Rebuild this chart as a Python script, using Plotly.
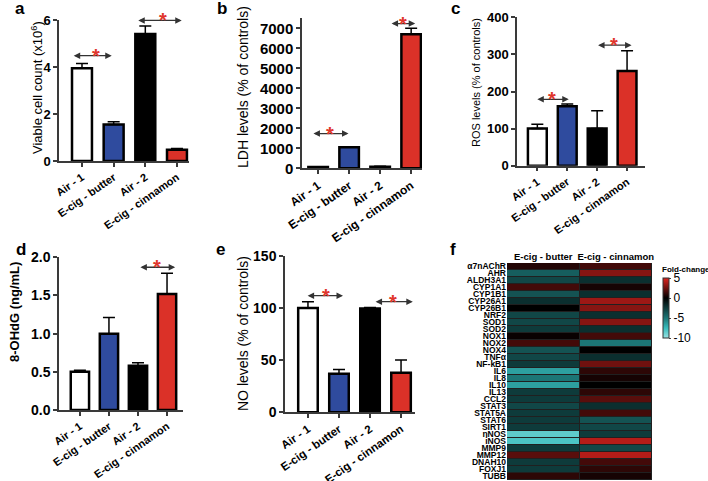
import plotly.graph_objects as go

W, H = 708, 481
FONT = "Liberation Sans, Arial, sans-serif"

groups = ["Air - 1", "E-cig - butter", "Air - 2", "E-cig - cinnamon"]
bar_colors = ["#ffffff", "#2f4b9e", "#000000", "#db3128"]

# Panel values (mean, upper error)
viable_mean = [3.95, 1.55, 5.4, 0.48]
viable_err = [0.2, 0.12, 0.35, 0.05]
ldh_mean = [60, 1050, 80, 6700]
ldh_err = [10, 30, 25, 300]
ros_mean = [100, 160, 100, 255]
ros_err = [12, 6, 48, 55]
ohdg_mean = [0.5, 1.0, 0.58, 1.52]
ohdg_err = [0.02, 0.21, 0.04, 0.27]
no_mean = [100, 37, 99.5, 38]
no_err = [6, 4, 1, 12]

genes = ["α7nAChR", "AHR", "ALDH3A1", "CYP1A1", "CYP1B1", "CYP26A1", "CYP26B1",
         "NRF2", "SOD1", "SOD2", "NOX1", "NOX2", "NOX4", "TNFα", "NF-kB1", "IL6",
         "IL8", "IL10", "IL13", "CCL2", "STAT3", "STAT5A", "STAT6", "SIRT1",
         "nNOS", "iNOS", "MMP9", "MMP12", "DNAH10", "FOXJ1", "TUBB"]
heat_cols = ["E-cig - butter", "E-cig - cinnamon"]
fc_butter = [0.8, -4.0, -3.0, 1.5, -3.5, -2.0, 0.0, -3.0, -3.0, -2.5, 0.2, 1.5,
             -3.5, -3.0, -2.5, -6.5, -5.0, -6.5, -2.5, -2.5, -3.0, -2.5, -2.5,
             -2.5, -8.5, -8.0, -2.5, 2.0, -2.5, -2.5, 1.0]
fc_cinnamon = [1.5, 3.0, -2.0, 0.5, -2.0, 3.5, 3.0, -2.0, 3.0, -2.0, 1.5, -5.0,
               0.0, -2.0, 2.5, 1.0, 0.5, 0.0, 1.0, 2.0, -2.0, 1.5, -3.5, -3.0,
               -2.5, 4.0, -3.0, 4.0, 1.5, 1.0, 0.5]

def px(x):
    return x / W

def py(y):
    return 1 - y / H

panels = [
    dict(key="", xs=(59, 189), ys=(20, 161), yr=[0, 6], dt=2, yfs=13, xfs=11, xr=[-0.726, 3.38],
         mean=viable_mean, err=viable_err),
    dict(key="2", xs=(302, 422), ys=(18.3, 168.3), yr=[0, 7500], dt=1000, yfs=15, xfs=12, xr=[-0.52, 3.35],
         mean=ldh_mean, err=ldh_err, tv=list(range(0, 7001, 1000))),
    dict(key="3", xs=(517, 645), ys=(17.3, 165.7), yr=[0, 400], dt=100, yfs=13, xfs=11, xr=[-0.68, 3.6],
         mean=ros_mean, err=ros_err),
    dict(key="4", xs=(59, 183), ys=(257.3, 410), yr=[0, 2], dt=0.5, yfs=14, xfs=11, xr=[-0.72, 3.55],
         mean=ohdg_mean, err=ohdg_err, fmt=".1f"),
    dict(key="5", xs=(285, 415), ys=(255.7, 412.3), yr=[0, 150], dt=50, yfs=14, xfs=11.5, xr=[-0.74, 3.45],
         mean=no_mean, err=no_err),
]

fig = go.Figure()
layout = dict(width=W, height=H, margin=dict(l=0, r=0, t=0, b=0, autoexpand=False),
              paper_bgcolor="white", plot_bgcolor="white", showlegend=False,
              font=dict(family=FONT, color="black"))

for p in panels:
    k = p["key"]
    fig.add_trace(go.Bar(
        x=groups, y=p["mean"], width=0.63,
        marker=dict(color=bar_colors, line=dict(color="black", width=2.5)),
        error_y=dict(type="data", array=p["err"], arrayminus=[0] * 4, symmetric=False,
                     color="black", thickness=1.5, width=6),
        xaxis="x" + k, yaxis="y" + k, cliponaxis=False))
    layout["xaxis" + k] = dict(
        domain=[px(p["xs"][0]), px(p["xs"][1])], anchor="y" + k, type="category",
        range=p["xr"], showline=True, linecolor="#3a3a3a", linewidth=1.5,
        ticks="outside", ticklen=4, tickwidth=1.5, tickcolor="#3a3a3a",
        tickangle=-35, tickfont=dict(size=p["xfs"], family=FONT, weight="bold"),
        showgrid=False, zeroline=False, fixedrange=True, automargin=False)
    ya = dict(domain=[py(p["ys"][1]), py(p["ys"][0])], anchor="x" + k, range=p["yr"],
              showline=True, linecolor="#3a3a3a", linewidth=1.5, ticks="outside",
              ticklen=4, tickwidth=1.5, tickcolor="#3a3a3a", dtick=p["dt"],
              tickfont=dict(size=p["yfs"], family=FONT, weight="bold"),
              showgrid=False, zeroline=False, automargin=False)
    if "tv" in p:
        ya["tickmode"] = "array"
        ya["tickvals"] = p["tv"]
    if "fmt" in p:
        ya["tickformat"] = p["fmt"]
    layout["yaxis" + k] = ya

# heatmap
z = [[b, c] for b, c in zip(fc_butter, fc_cinnamon)]
fig.add_trace(go.Heatmap(
    z=z, x=heat_cols, y=genes, zmin=-10, zmax=5, xgap=1, ygap=1,
    colorscale=[[0, "#9ae2e2"], [0.1667, "#38bcbc"], [0.333, "#1c7676"],
                [0.667, "#000000"], [1, "#e0231e"]],
    colorbar=dict(thickness=6, thicknessmode="pixels", len=60, lenmode="pixels",
                  x=px(663), xanchor="left", y=py(308), yanchor="middle",
                  xpad=0, ypad=0, outlinewidth=1, outlinecolor="#333",
                  tickvals=[5, 0, -5, -10], ticktext=["5", "0", "-5", "-10"],
                  ticks="outside", ticklen=2,
                  tickfont=dict(size=12, family=FONT)),
    xaxis="x6", yaxis="y6"))
layout["xaxis6"] = dict(domain=[px(507), px(652)], anchor="y6", side="top",
                        showline=False, ticks="", showgrid=False, zeroline=False,
                        automargin=False,
                        tickfont=dict(size=9.5, family=FONT, weight="bold"))
layout["yaxis6"] = dict(domain=[py(480), py(263)], anchor="x6", autorange="reversed",
                        showline=False, ticks="", showgrid=False, zeroline=False,
                        automargin=False,
                        tickmode="array", tickvals=genes, ticktext=genes,
                        tickfont=dict(size=8.5, family=FONT, weight="bold"))

shapes = [dict(type="rect", xref="paper", yref="paper", x0=px(507), x1=px(652),
               y0=py(480), y1=py(263), fillcolor="#202020", line=dict(width=0), layer="below")]

annotations = []
# significance arrows: (axis key, x start, x end, y, asterisk x)
sig = [
    ("", -0.31, 0.94, 4.48, 0.44), ("", 1.73, 3.15, 5.98, 2.56),
    ("2", -0.2, 0.98, 1735, 0.39), ("2", 2.32, 3.13, 7235, 2.74),
    ("3", -0.05, 1.05, 179, 0.48), ("3", 1.98, 3.15, 325, 2.55),
    ("4", 2.03, 3.28, 1.87, 2.66),
    ("5", -0.06, 1.13, 111.7, 0.57), ("5", 2.13, 3.38, 106, 2.74),
]
for k, x0, x1, yv, xs in sig:
    annotations.append(dict(x=x1, y=yv, ax=x0, ay=yv, xref="x" + k, yref="y" + k,
                            axref="x" + k, ayref="y" + k, text="", showarrow=True,
                            arrowhead=2, startarrowhead=2, arrowside="end+start",
                            arrowsize=1, startarrowsize=1, arrowwidth=1.3,
                            arrowcolor="#333", standoff=0, startstandoff=0))
    annotations.append(dict(x=xs, y=yv, xref="x" + k, yref="y" + k, text="*",
                            showarrow=False, yanchor="middle", xanchor="center",
                            font=dict(size=20, color="#e0362c", family=FONT, weight="bold")))

# y titles
ytitles = [
    ("Viable cell count (x10<sup>6</sup>)", 37, 88, 13, "normal"),
    ("LDH levels (% of controls)", 243, 87, 14, "normal"),
    ("ROS levels (% of controls)", 476, 83, 11, "normal"),
    ("8-OHdG (ng/mL)", 14, 312, 13, "bold"),
    ("NO levels (% of controls)", 243, 333, 14, "normal"),
]
for t, x, y, s, w in ytitles:
    annotations.append(dict(x=px(x), y=py(y), xref="paper", yref="paper", text=t,
                            textangle=-90, showarrow=False, xanchor="center", yanchor="middle",
                            font=dict(size=s, family=FONT, weight=w)))

letters = [("a", 20, 9), ("b", 222, 9), ("c", 455, 9), ("d", 21, 249), ("e", 220, 249), ("f", 453, 249)]
for t, x, y in letters:
    annotations.append(dict(x=px(x), y=py(y), xref="paper", yref="paper", text=t,
                            showarrow=False, xanchor="center", yanchor="middle",
                            font=dict(size=17, family=FONT, weight="bold")))

annotations.append(dict(x=px(660), y=py(269), xref="paper", yref="paper", text="Fold-change",
                        showarrow=False, xanchor="left", yanchor="middle",
                        font=dict(size=8, family=FONT, weight="bold")))

layout["annotations"] = annotations
layout["shapes"] = shapes
fig.update_layout(**layout)
fig.write_html("out.html", config={"displayModeBar": False},
               post_script="document.body.style.margin='0px';document.body.style.overflow='hidden';")
